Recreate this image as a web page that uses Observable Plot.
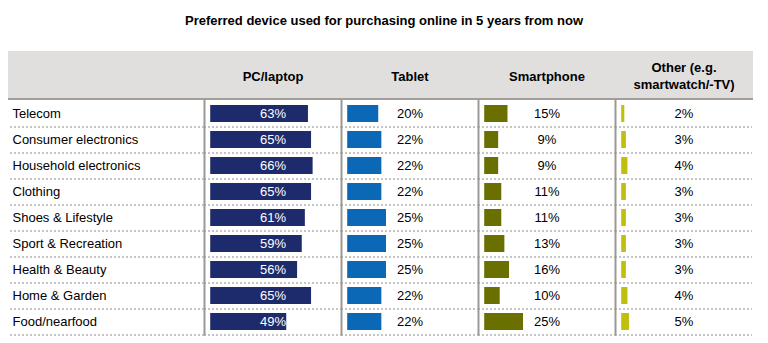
<!DOCTYPE html>
<html>
<head>
<meta charset="utf-8">
<script src="https://cdn.jsdelivr.net/npm/d3@7"></script>
<script src="https://cdn.jsdelivr.net/npm/@observablehq/plot@0.6"></script>
<style>
  html, body { margin: 0; padding: 0; background: #fff; }
  body { width: 768px; height: 343px; overflow: hidden; font-family: "Liberation Sans", Arial, Helvetica, sans-serif; }
  #title { height: 40px; line-height: 41px; text-align: center; font-weight: bold; font-size: 13px; color: #000; }
  #chart { padding-left: 8px; }
</style>
</head>
<body>
<div id="title">Preferred device used for purchasing online in 5 years from now</div>
<div id="chart"></div>
<script>
const categories = ["Telecom", "Consumer electronics", "Household electronics", "Clothing", "Shoes & Lifestyle", "Sport & Recreation", "Health & Beauty", "Home & Garden", "Food/nearfood"];
const devices = ["PC/laptop", "Tablet", "Smartphone", "Other (e.g.\nsmartwatch/-TV)"];
const pcLaptop   = [63, 65, 66, 65, 61, 59, 56, 65, 49];
const tablet     = [20, 22, 22, 22, 25, 25, 25, 22, 22];
const smartphone = [15, 9, 9, 11, 11, 13, 16, 10, 25];
const other      = [2, 3, 4, 3, 3, 3, 3, 4, 5];
const colors = ["#1d2b6c", "#0a68b6", "#6a7000", "#bfc00e"];

const series = [pcLaptop, tablet, smartphone, other];
const rows = categories.flatMap((c, i) => devices.map((d, j) => ({category: c, device: d, value: series[j][i]})));

const dash = "#8c8c8c";
const chart = Plot.plot({
  width: 745,
  height: 298,
  marginLeft: 194,
  marginRight: 0,
  marginTop: 60,
  marginBottom: 4,
  style: {
    background: "linear-gradient(to bottom, #fff 0px, #fff 11px, #e1dfde 11px, #e1dfde 58px, #a39e9a 58px, #a39e9a 60px, #fff 60px)",
    fontFamily: "'Liberation Sans', Arial, Helvetica, sans-serif",
    fontSize: "13px",
    color: "#000"
  },
  fx: {domain: devices, padding: 0, axis: null},
  x: {domain: [-4, 84.3], axis: null},
  y: {domain: categories, paddingInner: 0.35, paddingOuter: 0.175, axis: null},
  color: {domain: devices, range: colors},
  marks: [
    Plot.ruleY(categories, {y: d => d, dy: 13, stroke: dash, strokeDasharray: "2,2"}),
    Plot.axisY({tickSize: 194, tickFormat: () => "", dy: 13, stroke: dash, strokeDasharray: "2,2", label: null}),
    Plot.axisY({tickSize: 0, tickPadding: 0, textAnchor: "start", dx: -192, fontSize: 13, fill: "#000", label: null}),
    Plot.frame({anchor: "left", stroke: "#9d9893", strokeWidth: 2}),
    Plot.barX(rows, {fx: "device", y: "category", x: "value", fill: "device"}),
    Plot.text(rows, {fx: "device", y: "category", text: d => d.value + "%", fontSize: 13, fill: d => d.device === devices[0] ? "#fff" : "#000"}),
    Plot.text(devices, {fx: d => d, text: d => d, frameAnchor: "top", lineAnchor: "middle", dy: -25, fontWeight: "bold", fontSize: 13, lineHeight: 1.3, fill: "#000"})
  ]
});
document.getElementById("chart").appendChild(chart);
</script>
</body>
</html>
